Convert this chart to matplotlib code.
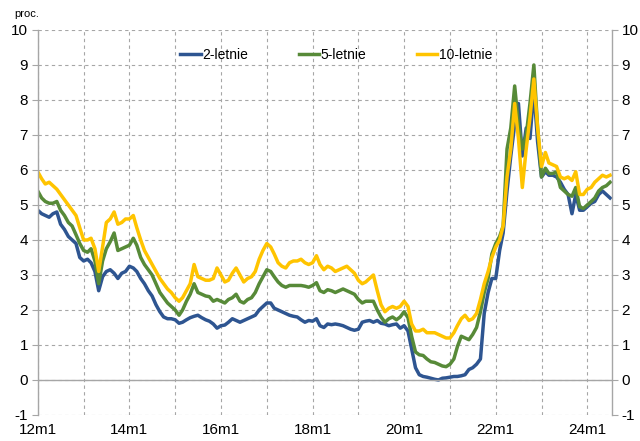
import numpy as np
import pandas as pd
import matplotlib
matplotlib.use("Agg")
import matplotlib.pyplot as plt

# monthly yields, 2012m1 .. 2024m7 (proc.)
y2 = [4.85, 4.75, 4.7, 4.65, 4.75, 4.8, 4.45, 4.3, 4.1, 4.0, 3.9, 3.5,
      3.4, 3.45, 3.35, 3.1, 2.55, 2.95, 3.1, 3.15, 3.05, 2.9, 3.05, 3.1,
      3.25, 3.2, 3.1, 2.9, 2.75, 2.55, 2.4, 2.15, 1.95, 1.8, 1.75, 1.75,
      1.72, 1.62, 1.65, 1.72, 1.78, 1.82, 1.85, 1.78, 1.72, 1.68, 1.6, 1.48,
      1.55, 1.57, 1.65, 1.75, 1.7, 1.65, 1.7, 1.75, 1.8, 1.85, 2.0, 2.1,
      2.2, 2.2, 2.05, 2.0, 1.95, 1.9, 1.85, 1.82, 1.8, 1.72, 1.65, 1.7,
      1.68, 1.75, 1.55, 1.5, 1.6, 1.58, 1.6, 1.58, 1.55, 1.5, 1.45, 1.42,
      1.45, 1.65, 1.68, 1.7, 1.65, 1.7, 1.62, 1.6, 1.55, 1.58, 1.6, 1.48,
      1.55, 1.4, 0.9, 0.35, 0.15, 0.1, 0.08, 0.05, 0.02, 0.0, 0.05, 0.06,
      0.08, 0.1, 0.1, 0.12, 0.15, 0.3, 0.35, 0.45, 0.6, 1.9, 2.5, 2.9,
      2.9, 3.7, 4.2, 5.4, 6.4, 7.3, 7.9, 6.4, 7.2, 6.9, 8.3, 6.8,
      5.8, 5.95, 5.85, 5.85, 5.8, 5.65, 5.45, 5.3, 4.75, 5.3, 4.85, 4.85,
      4.95, 5.05, 5.1, 5.3, 5.4, 5.3, 5.2]

y5 = [5.4, 5.2, 5.1, 5.05, 5.05, 5.1, 4.85, 4.7, 4.5, 4.4, 4.15, 3.9,
      3.7, 3.65, 3.75, 3.4, 2.75, 3.4, 3.75, 3.95, 4.2, 3.7, 3.75, 3.8,
      3.85, 4.05, 3.85, 3.5, 3.3, 3.15, 3.0, 2.75, 2.5, 2.35, 2.2, 2.1,
      2.0, 1.85, 2.0, 2.25, 2.45, 2.75, 2.5, 2.45, 2.4, 2.38, 2.25, 2.3,
      2.25, 2.2, 2.3, 2.35, 2.45, 2.25, 2.2, 2.3, 2.35, 2.5, 2.75, 2.95,
      3.15, 3.1, 2.95, 2.8, 2.7, 2.65, 2.7, 2.7, 2.7, 2.7, 2.68, 2.65,
      2.7, 2.78, 2.55, 2.5, 2.58, 2.55, 2.5, 2.55, 2.6, 2.55, 2.5, 2.45,
      2.3, 2.2, 2.25, 2.25, 2.25, 2.0, 1.8, 1.65, 1.75, 1.8, 1.72, 1.8,
      1.95, 1.78, 1.25, 0.8, 0.72, 0.7, 0.6, 0.52, 0.5, 0.45, 0.4, 0.38,
      0.45, 0.6, 0.95, 1.25, 1.2, 1.15, 1.3, 1.5, 1.95, 2.5, 2.9, 3.6,
      3.9, 4.1, 4.4, 6.6, 7.2, 8.4, 7.3, 6.6, 7.0, 7.9, 9.0, 7.2,
      5.8, 6.05, 5.9, 5.9, 5.95, 5.5, 5.4, 5.3, 5.25, 5.5, 4.95, 4.9,
      5.0, 5.1, 5.2, 5.4, 5.5, 5.55, 5.65]

y10 = [5.95, 5.75, 5.6, 5.65, 5.55, 5.45, 5.3, 5.15, 5.0, 4.85, 4.7, 4.35,
       4.0, 4.0, 4.05, 3.75, 3.1, 3.8, 4.5, 4.6, 4.8, 4.45, 4.5, 4.6,
       4.6, 4.7, 4.35, 4.0, 3.7, 3.5, 3.3, 3.1, 2.9, 2.75, 2.6, 2.5,
       2.35, 2.25, 2.35, 2.55, 2.75, 3.3, 2.95, 2.9, 2.85, 2.85, 2.9, 3.2,
       3.0, 2.8, 2.85, 3.05, 3.2, 3.0, 2.8, 2.9, 2.95, 3.1, 3.45, 3.7,
       3.9, 3.8, 3.6, 3.35, 3.25, 3.2, 3.35, 3.4, 3.4, 3.45, 3.35, 3.3,
       3.35, 3.55, 3.3, 3.15, 3.25, 3.2, 3.1, 3.15, 3.2, 3.25, 3.15, 3.05,
       2.85, 2.75, 2.8, 2.9, 3.0, 2.55, 2.15, 1.95, 2.05, 2.1, 2.05, 2.1,
       2.25, 2.1, 1.6, 1.4, 1.4, 1.45, 1.35, 1.35, 1.35, 1.3, 1.25, 1.2,
       1.2, 1.35, 1.55, 1.75, 1.85, 1.7, 1.75, 1.9, 2.3, 2.75, 3.1, 3.5,
       3.8, 4.0, 4.4, 5.8, 6.6, 7.9, 6.9, 5.5, 6.6, 7.5, 8.6, 7.2,
       6.1, 6.5, 6.2, 6.15, 6.1, 5.8, 5.75, 5.8, 5.7, 5.95, 5.3, 5.3,
       5.45, 5.5, 5.65, 5.75, 5.85, 5.8, 5.85]

series_names = ["2-letnie", "5-letnie", "10-letnie"]
colors = ["#2E5591", "#578A38", "#FFC400"]
tick_years = list(range(2012, 2025))

dates = pd.date_range("2012-01-01", periods=len(y2), freq="MS")

plt.rcParams["font.family"] = ["Liberation Sans", "DejaVu Sans"]
plt.rcParams["axes.unicode_minus"] = False

fig = plt.figure(figsize=(6.4, 4.41), dpi=100)
ax = fig.add_axes([0.059, 0.059, 0.897, 0.873])

for vals, name, col in zip([y2, y5, y10], series_names, colors):
    ax.plot(dates, vals, color=col, lw=2.5, label=name, solid_joinstyle="round")

ax.set_ylim(-1, 10)
ax.set_yticks(range(-1, 11))
ax.set_xlim(pd.Timestamp("2012-01-01"), pd.Timestamp("2024-07-15"))

xt = [pd.Timestamp(f"{y}-01-01") for y in tick_years]
ax.set_xticks(xt)
ax.set_xticklabels([f"{str(y)[2:]}m1" if y % 2 == 0 else "" for y in tick_years])

ax.grid(True, ls=(0, (3, 3)), color="#A6A6A6", lw=0.8)
ax.axhline(0, color="#A6A6A6", lw=1.0)
for s in ["top", "bottom"]:
    ax.spines[s].set_visible(False)
for s in ["left", "right"]:
    ax.spines[s].set_color("#A6A6A6")
    ax.spines[s].set_linewidth(1.0)

ax.tick_params(axis="y", which="both", left=True, right=True, labelleft=True,
               labelright=True, length=4, color="#A6A6A6", labelsize=11, pad=3)
ax.tick_params(axis="x", length=0, labelsize=11, pad=6)

fig.text(0.022, 0.962, "proc.", fontsize=8)

leg = ax.legend(loc="upper center", bbox_to_anchor=(0.52, 0.985), ncol=3,
                frameon=False, fontsize=10, handlelength=1.5, handletextpad=0.1,
                columnspacing=3.6)

fig.savefig("out.png", dpi=100)
